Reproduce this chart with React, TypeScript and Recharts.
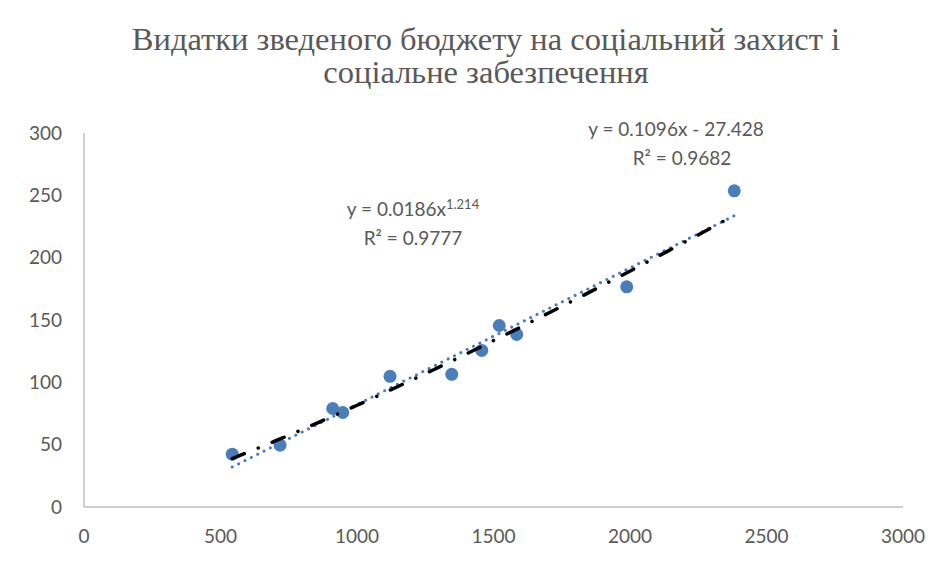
import React from 'react';
import { ScatterChart, Scatter, XAxis, YAxis } from 'recharts';

// Spending values
const spendX = [543, 718, 911, 948, 1121, 1347, 1457, 1521, 1585, 1988, 2382];
const spendY = [42.4, 49.6, 79, 75.8, 104.8, 106.4, 125.6, 145.6, 138.4, 176.6, 253.6];

const xTicks = [0, 500, 1000, 1500, 2000, 2500, 3000];
const yTicks = [0, 50, 100, 150, 200, 250, 300];

// Trendline coefficients as printed on the chart
const linSlope = 0.1096;
const linIntercept = -27.428;
const powCoef = 0.0186;
const powExp = 1.214;

const TITLE_1 = 'Видатки зведеного бюджету на соціальний захист і';
const TITLE_2 = 'соціальне забезпечення';

const points = spendX.map((x, i) => ({ x, y: spendY[i] }));

// trendlines are evaluated over the range of the observed x values
const xMin = Math.min(...spendX);
const xMax = Math.max(...spendX);
const steps = 60;
const trendXs = Array.from({ length: steps + 1 }, (_, i) => xMin + ((xMax - xMin) * i) / steps);
const linearTrend = [xMin, xMax].map((x) => ({ x, y: linSlope * x + linIntercept }));
const powerTrend = trendXs.map((x) => ({ x, y: powCoef * Math.pow(x, powExp) }));

const BLUE = '#4a7ebb';
const TEXT = '#595959';
const AXIS = '#bfbfbf';
const SANS = 'Lato, "Open Sans", sans-serif';

const NoDot = () => <g />;

export default function App() {
  return (
    <div
      style={{
        position: 'relative',
        width: 946,
        height: 565,
        margin: '-8px 0 0 -8px',
        overflow: 'hidden',
        background: '#fff',
      }}
    >
      {/* chart area border */}
      <div
        style={{
          position: 'absolute',
          left: 7,
          top: 6,
          width: 1000,
          height: 700,
          border: '1px solid #d9d9d9',
        }}
      />

      {/* Title */}
      <div
        style={{
          position: 'absolute',
          left: 0,
          width: 972,
          top: 23,
          textAlign: 'center',
          fontFamily: '"Liberation Serif", "Times New Roman", serif',
          fontSize: 32.5,
          lineHeight: '33px',
          color: TEXT,
        }}
      >
        <div>{TITLE_1}</div>
        <div>{TITLE_2}</div>
      </div>

      <ScatterChart
        width={946}
        height={565}
        margin={{ top: 133, right: 43, bottom: 28, left: 24 }}
        style={{ position: 'absolute', left: 0, top: 0 }}
      >
        <XAxis
          type="number"
          dataKey="x"
          domain={[0, 3000]}
          ticks={xTicks}
          allowDataOverflow
          height={30}
          axisLine={{ stroke: AXIS, strokeWidth: 1.5 }}
          tickLine={false}
          tickMargin={17}
          tick={{ fill: TEXT, fontSize: 19, fontFamily: SANS }}
        />
        <YAxis
          type="number"
          dataKey="y"
          domain={[0, 300]}
          ticks={yTicks}
          allowDataOverflow
          width={60}
          axisLine={{ stroke: AXIS, strokeWidth: 1.5 }}
          tickLine={false}
          tickMargin={16}
          tick={{ fill: TEXT, fontSize: 19, fontFamily: SANS }}
        />
        <Scatter data={points} fill={BLUE} isAnimationActive={false} shape={(p: any) => (
          <circle cx={p.cx} cy={p.cy} r={6.5} fill={BLUE} />
        )} />
        <Scatter
          data={linearTrend}
          isAnimationActive={false}
          shape={NoDot}
          line={{ stroke: BLUE, strokeWidth: 3, strokeDasharray: '0.1 7', strokeLinecap: 'round' }}
        />
        <Scatter
          data={powerTrend}
          isAnimationActive={false}
          shape={NoDot}
          line={{ stroke: '#000', strokeWidth: 3.5, strokeDasharray: '13 15 0.1 15', strokeLinecap: 'round' }}
        />
      </ScatterChart>

      {/* power trendline label */}
      <div
        style={{
          position: 'absolute',
          left: 313,
          width: 200,
          top: 190,
          textAlign: 'center',
          fontFamily: SANS,
          fontSize: 19,
          lineHeight: '29px',
          color: TEXT,
        }}
      >
        <div>
          y = 0.0186x<sup style={{ fontSize: 13 }}>1.214</sup>
        </div>
        <div>
          R² = 0.9777
        </div>
      </div>

      {/* linear trendline label */}
      <div
        style={{
          position: 'absolute',
          left: 576,
          width: 200,
          top: 114,
          textAlign: 'center',
          fontFamily: SANS,
          fontSize: 19,
          lineHeight: '29px',
          color: TEXT,
        }}
      >
        <div>y = 0.1096x - 27.428</div>
        <div style={{ paddingLeft: 12 }}>R² = 0.9682</div>
      </div>
    </div>
  );
}
